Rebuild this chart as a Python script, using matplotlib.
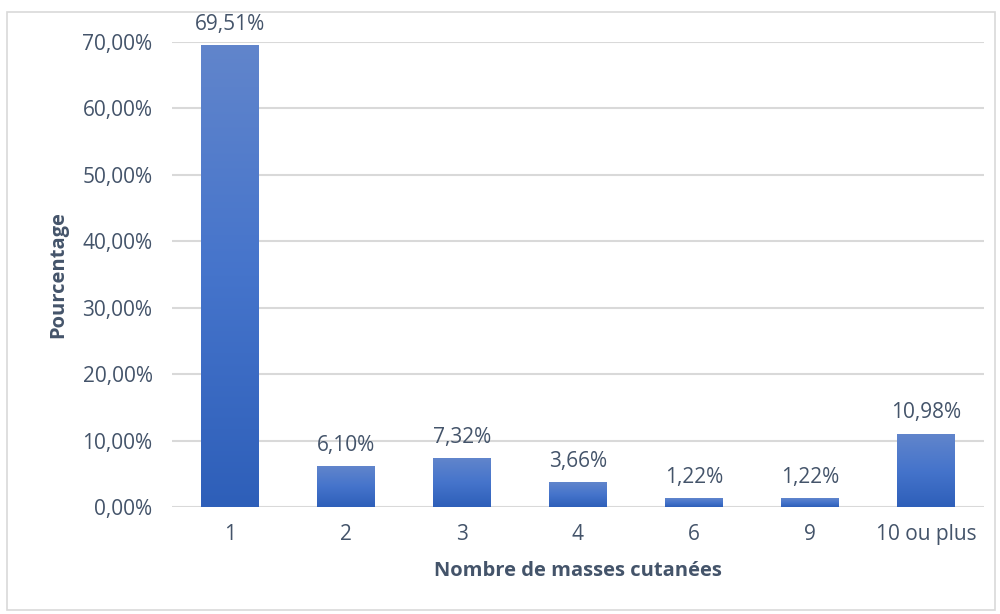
import numpy as np
import matplotlib.pyplot as plt
from matplotlib.colors import LinearSegmentedColormap
from matplotlib.patches import Rectangle

categories = ["1", "2", "3", "4", "6", "9", "10 ou plus"]
values = [69.51, 6.10, 7.32, 3.66, 1.22, 1.22, 10.98]
labels = ["69,51%", "6,10%", "7,32%", "3,66%", "1,22%", "1,22%", "10,98%"]
yticks = [0, 10, 20, 30, 40, 50, 60, 70]
ytick_labels = ["0,00%", "10,00%", "20,00%", "30,00%", "40,00%", "50,00%", "60,00%", "70,00%"]

txt = '#44546A'
plt.rcParams['font.family'] = ['Open Sans', 'DejaVu Sans']

fig = plt.figure(figsize=(10, 6.14), dpi=100)
# outer chart border
fig.patches.append(Rectangle((0.007, 0.007), 0.988, 0.974, transform=fig.transFigure,
                             fill=False, edgecolor='#D9D9D9', lw=1.2))
ax = fig.add_axes([0.172, 0.1743, 0.812, 0.7573])

x = np.arange(len(categories))
width = 0.5

# blue gradient, lighter on top
cmap = LinearSegmentedColormap.from_list('bar', ['#2E5FB9', '#4574CB', '#6185CC'])
grad = np.linspace(0, 1, 256).reshape(-1, 1)
for xi, v, lab in zip(x, values, labels):
    ax.imshow(grad, cmap=cmap, origin='lower', aspect='auto',
              extent=(xi - width / 2, xi + width / 2, 0, v), zorder=3)
    ax.text(xi, v + 1.6, lab, ha='center', va='bottom', fontsize=15, color=txt, zorder=4)

ax.set_xlim(-0.5, len(categories) - 0.5)
ax.set_ylim(0, 70)
ax.set_xticks(x)
ax.set_xticklabels(categories)
ax.set_yticks(yticks)
ax.set_yticklabels(ytick_labels)
ax.tick_params(axis='both', length=0, labelsize=15, labelcolor=txt)
ax.tick_params(axis='x', pad=12)
ax.tick_params(axis='y', pad=14)
ax.grid(axis='y', color='#D9D9D9', lw=1.5, zorder=0)
for s in ax.spines.values():
    s.set_visible(False)

ax.set_xlabel("Nombre de masses cutanées", fontsize=14.5, fontweight='bold', color=txt, labelpad=12)
ax.set_ylabel("Pourcentage", fontsize=14.5, fontweight='bold', color=txt, labelpad=10)

fig.savefig("out.png", dpi=100)
